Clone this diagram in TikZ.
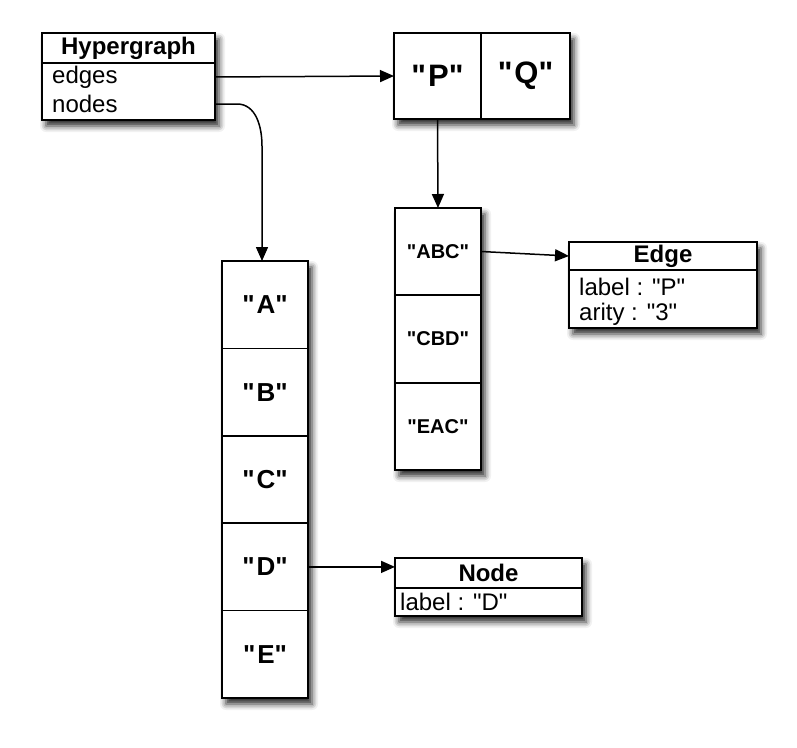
\documentclass[tikz,border=0pt]{standalone}
\usepackage{fontspec}
\setmainfont{Liberation Sans}[Ligatures=TeXOff]
\usetikzlibrary{shadows.blur,fit,arrows.meta,backgrounds,calc}
\newcommand\qt[1]{"\kern2pt#1"}
\begin{document}
\begin{tikzpicture}[x=1pt,y=-1pt,
  box/.style={draw, line width=1.6pt, fill=white, inner sep=0pt, outer sep=0pt},
  cellbig/.style={box, font=\fontsize{31}{34}\selectfont\bfseries},
  cellmid/.style={box, font=\fontsize{26}{30}\selectfont\bfseries},
  cellsmall/.style={box, font=\fontsize{20}{24}\selectfont\bfseries},
  titlebox/.style={box, font=\fontsize{24}{28}\selectfont\bfseries},
  txt/.style={anchor=west, inner sep=0pt, font=\fontsize{24}{28}\selectfont},
  shad/.style={fill=white, inner sep=0pt, blur shadow={shadow xshift=4pt, shadow yshift=-6pt, shadow blur radius=6pt, shadow opacity=85}},
  arr/.style={line width=1.5pt, -{Triangle[length=14pt,width=12pt]}}
]
\useasboundingbox (0,0) rectangle (797,747);

% Hypergraph
\node[titlebox, minimum width=173pt, minimum height=30pt] (hgtitle) at (128.5,48) {Hypergraph};
\node[box, minimum width=173pt, minimum height=57pt] (hgbody) at (128.5,91.5) {};
\node[txt] (edges) at (52,77) {edges};
\node[txt] (nodes) at (52,104) {nodes};

% P Q
\node[cellbig, minimum width=87pt, minimum height=86pt] (p) at (437.5,76) {\qt{P}};
\node[cellbig, minimum width=89pt, minimum height=86pt] (q) at (525.5,76) {\qt{Q}};

% edge list
\node[cellsmall, minimum width=86pt, minimum height=87pt] (abc) at (438,251.5) {"ABC"};
\node[cellsmall, minimum width=86pt, minimum height=88pt] (cbd) at (438,339) {"CBD"};
\node[cellsmall, minimum width=86pt, minimum height=87pt] (eac) at (438,426.5) {"EAC"};

% Edge
\node[titlebox, minimum width=188pt, minimum height=28pt] (edgetitle) at (663,256) {Edge};
\node[box, minimum width=188pt, minimum height=58pt] (edgebody) at (663,299) {};
\node[txt] (elabel) at (579,287) {label : "P"};
\node[txt] (earity) at (579,314) {arity : "3"};

% node list
\node[cellmid, minimum width=86pt, minimum height=87.4pt] (a) at (265,304.7) {\qt{A}};
\node[cellmid, minimum width=86pt, minimum height=87.4pt] (b) at (265,392.1) {\qt{B}};
\node[cellmid, minimum width=86pt, minimum height=87.4pt] (c) at (265,479.5) {\qt{C}};
\node[cellmid, minimum width=86pt, minimum height=87.4pt] (d) at (265,566.9) {\qt{D}};
\node[cellmid, minimum width=86pt, minimum height=87.4pt] (e) at (265,654.3) {\qt{E}};

% Node
\node[titlebox, minimum width=187pt, minimum height=30pt] (nodetitle) at (488.5,573) {Node};
\node[box, minimum width=187pt, minimum height=28pt] (nodebody) at (488.5,602) {};
\node[txt] (nlabel) at (400,602) {label : "D"};

% shadows
\begin{scope}[on background layer]
  \node[shad, fit=(hgtitle)(hgbody)] {};
  \node[shad, fit=(p)(q)] {};
  \node[shad, fit=(abc)(eac)] {};
  \node[shad, fit=(edgetitle)(edgebody)] {};
  \node[shad, fit=(a)(e)] {};
  \node[shad, fit=(nodetitle)(nodebody)] {};
\end{scope}

% connectors
\draw[arr] (edges -| hgbody.east) -- (p.west);
\draw[arr] (nodes -| hgbody.east) -- ++(22,0) to[out=0,in=90] ($(a.north)+(-3,-115)$) -- ($(a.north)+(-3,0)$);
\draw[arr] (p.south) -- (abc.north);
\draw[arr] (abc.east) -- (edgetitle.west);
\draw[arr] (d.east) -- (d.east -| nodetitle.west);
\end{tikzpicture}
\end{document}
